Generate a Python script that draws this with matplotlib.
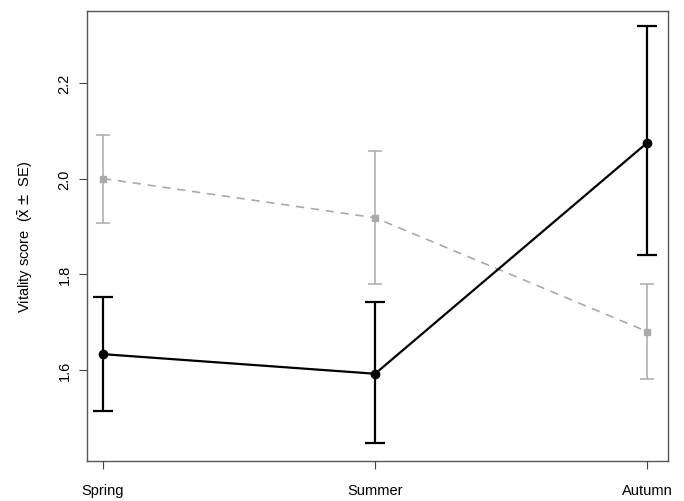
import matplotlib.pyplot as plt

plt.rcParams['font.family'] = ['Liberation Sans', 'DejaVu Sans']

seasons = ['Spring', 'Summer', 'Autumn']

# black series (solid)
black_mean = [1.633, 1.592, 2.075]
black_upper = [1.752, 1.742, 2.318]
black_lower = [1.514, 1.448, 1.840]

# grey series (dashed)
grey_mean = [2.000, 1.918, 1.680]
grey_upper = [2.090, 2.058, 1.780]
grey_lower = [1.908, 1.780, 1.582]

yticks = [1.6, 1.8, 2.0, 2.2]

fig = plt.figure(figsize=(6.84, 5.02), dpi=100)
ax = fig.add_axes([0.127, 0.080, 0.850, 0.896])

x = list(range(len(seasons)))

# grey dashed series with error bars
g_err = [[m - lo for m, lo in zip(grey_mean, grey_lower)],
         [hi - m for m, hi in zip(grey_mean, grey_upper)]]
ax.errorbar(x, grey_mean, yerr=g_err, color='#aaaaaa', ecolor='#aaaaaa',
            linestyle=(0, (5, 4)), linewidth=1.2, elinewidth=1.1,
            capsize=5, capthick=1.1, marker='s', markersize=4, zorder=2)

# black solid series with error bars
b_err = [[m - lo for m, lo in zip(black_mean, black_lower)],
         [hi - m for m, hi in zip(black_mean, black_upper)]]
ax.errorbar(x, black_mean, yerr=b_err, color='black', ecolor='black',
            linestyle='-', linewidth=1.6, elinewidth=1.6,
            capsize=7, capthick=1.6, marker='o', markersize=6, zorder=3)

ax.set_xlim(-0.059, 2.077)
ax.set_ylim(1.41, 2.35)

ax.set_xticks(x)
ax.set_xticklabels(seasons, fontsize=10.5)
ax.set_yticks(yticks)
ax.set_yticklabels([f'{v:.1f}' for v in yticks], rotation=90, va='center', fontsize=10.5)

ax.tick_params(axis='both', direction='out', length=6, width=0.8, color='#444444')
ax.tick_params(axis='x', pad=10)
ax.tick_params(axis='y', pad=5)

for sp in ax.spines.values():
    sp.set_linewidth(1.0)
    sp.set_color('#555555')

ax.set_ylabel(r'Vitality score  ($\bar{\mathrm{x}}\pm$ SE)', fontsize=10.5, labelpad=16)

fig.savefig('out.png', dpi=100)
